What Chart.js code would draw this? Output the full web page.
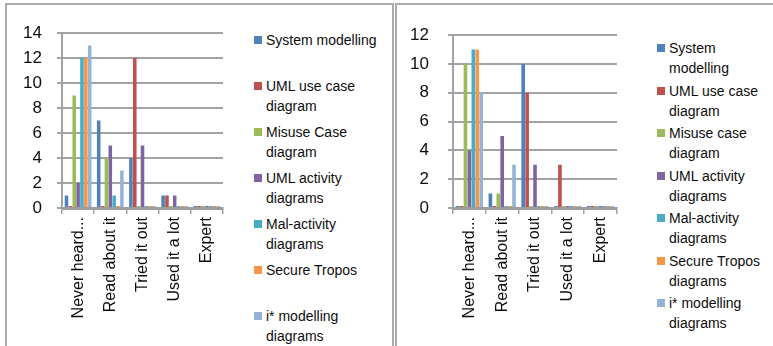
<!DOCTYPE html>
<html>
<head>
<meta charset="utf-8">
<script src="https://cdn.jsdelivr.net/npm/chart.js@4/dist/chart.umd.min.js"></script>
<style>
  html, body { margin: 0; padding: 0; background: #fff; }
  body { width: 773px; height: 346px; position: relative; overflow: hidden;
         font-family: 'Liberation Sans', Arial, sans-serif; color: #0d0d0d; }
  .panel { position: absolute; top: 3px; height: 360px; border: 2px solid #ababab; box-sizing: border-box; }
  .box { position: absolute; }
  .legend { position: absolute; font-size: 14px; line-height: 20px; }
  .legend .item { position: absolute; white-space: nowrap; }
  .legend .sw { position: absolute; width: 8px; height: 8px; top: 6px; left: 0; }
  .legend .txt { position: absolute; left: 12px; top: 0; }
</style>
</head>
<body>
<div class="panel" style="left:5px; width:389px;"></div>
<div class="panel" style="left:395px; width:390px;"></div>

<div class="box" style="left:8px; top:6px;"><canvas id="chartA" width="226" height="340"></canvas></div>
<div class="box" style="left:398px; top:6px;"><canvas id="chartB" width="230" height="340"></canvas></div>

<div class="legend" id="legendA" style="left:254px; top:30px;"></div>
<div class="legend" id="legendB" style="left:657px; top:38px;"></div>

<script>
// Familiarity levels shown along the x axis
const categories = ['Never heard...', 'Read about it', 'Tried it out', 'Used it a lot', 'Expert'];

// Series colours (Office palette)
const seriesColors = ['#4F81BD', '#C0504D', '#9BBB59', '#8064A2', '#4BACC6', '#F79646', '#95B3D7'];

// Left chart: legend lines per series
const namesA = [
  ['System modelling'],
  ['UML use case', 'diagram'],
  ['Misuse Case', 'diagram'],
  ['UML activity', 'diagrams'],
  ['Mal-activity', 'diagrams'],
  ['Secure Tropos'],
  ['i* modelling', 'diagrams']
];
// Left chart: responses per familiarity level
const systemModellingA = [1, 7, 4, 1, 0];
const umlUseCaseA      = [0, 0, 12, 1, 0];
const misuseCaseA      = [9, 4, 0, 0, 0];
const umlActivityA     = [2, 5, 5, 1, 0];
const malActivityA     = [12, 1, 0, 0, 0];
const secureTroposA    = [12, 0, 0, 0, 0];
const iStarA           = [13, 3, 0, 0, 0];
const yTicksA = [0, 2, 4, 6, 8, 10, 12, 14];

// Right chart: legend lines per series
const namesB = [
  ['System', 'modelling'],
  ['UML use case', 'diagram'],
  ['Misuse case', 'diagram'],
  ['UML activity', 'diagrams'],
  ['Mal-activity', 'diagrams'],
  ['Secure Tropos', 'diagrams'],
  ['i* modelling', 'diagrams']
];
// Right chart: responses per familiarity level
const systemModellingB = [0, 1, 10, 0, 0];
const umlUseCaseB      = [0, 0, 8, 3, 0];
const misuseCaseB      = [10, 1, 0, 0, 0];
const umlActivityB     = [4, 5, 3, 0, 0];
const malActivityB     = [11, 0, 0, 0, 0];
const secureTroposB    = [11, 0, 0, 0, 0];
const iStarB           = [8, 3, 0, 0, 0];
const yTicksB = [0, 2, 4, 6, 8, 10, 12];

const FONT = "'Liberation Sans', Arial, sans-serif";
const TEXT = '#0d0d0d';
const GRID = '#a3a3a3';

function makeDatasets(names, seriesList) {
  return seriesList.map((values, i) => ({
    label: names[i].join(' '),
    data: values,
    backgroundColor: seriesColors[i],
    borderWidth: 0,
    minBarLength: 2,
    categoryPercentage: 0.84,
    barPercentage: 0.92
  }));
}

function buildChart(id, names, seriesList, yTicks, yWidth, yPad) {
  const maxY = yTicks[yTicks.length - 1];
  return new Chart(document.getElementById(id), {
    type: 'bar',
    data: { labels: categories, datasets: makeDatasets(names, seriesList) },
    options: {
      responsive: false,
      animation: false,
      devicePixelRatio: 1,
      layout: { padding: { top: 27, right: 11, left: 0, bottom: 0 } },
      plugins: { legend: { display: false }, tooltip: { enabled: false } },
      scales: {
        x: {
          offset: true,
          grid: { display: true, drawOnChartArea: false, drawTicks: true, tickLength: 6, color: GRID, lineWidth: 1.5 },
          border: { display: true, color: '#9c9c9c', width: 3 },
          ticks: { minRotation: 90, maxRotation: 90, autoSkip: false, padding: 3,
                   font: { family: FONT, size: 16 }, color: TEXT },
          afterFit: (s) => { s.height = 138; }
        },
        y: {
          min: 0, max: maxY,
          afterBuildTicks: (s) => { s.ticks = yTicks.map(v => ({ value: v })); },
          grid: { color: GRID, lineWidth: 2, tickLength: 5 },
          border: { display: true, color: GRID, width: 2 },
          ticks: { padding: yPad, font: { family: FONT, size: 17 }, color: TEXT },
          afterFit: (s) => { s.width = yWidth; }
        }
      }
    }
  });
}

function buildLegend(id, names, step) {
  const host = document.getElementById(id);
  names.forEach((lines, i) => {
    const item = document.createElement('div');
    item.className = 'item';
    item.style.top = (i * step) + 'px';
    const sw = document.createElement('div');
    sw.className = 'sw';
    sw.style.background = seriesColors[i];
    const txt = document.createElement('div');
    txt.className = 'txt';
    txt.innerHTML = lines.join('<br>');
    item.appendChild(sw);
    item.appendChild(txt);
    host.appendChild(item);
  });
}

buildChart('chartA', namesA,
  [systemModellingA, umlUseCaseA, misuseCaseA, umlActivityA, malActivityA, secureTroposA, iStarA],
  yTicksA, 54, 15);
buildChart('chartB', namesB,
  [systemModellingB, umlUseCaseB, misuseCaseB, umlActivityB, malActivityB, secureTroposB, iStarB],
  yTicksB, 55, 19);

buildLegend('legendA', namesA, 46);
buildLegend('legendB', namesB, 42.5);
</script>
</body>
</html>
